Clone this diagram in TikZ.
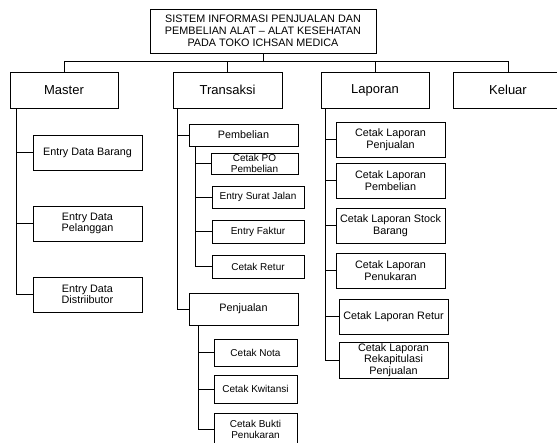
\documentclass[tikz,border=0pt]{standalone}
\usepackage{fontspec}
\setmainfont{Liberation Sans}
\usetikzlibrary{calc}

\tikzset{
  box/.style={draw=black, line width=0.75pt, fill=white, align=center, inner sep=1pt},
  titlebox/.style={box, font=\fontsize{10.8}{12}\selectfont},
  menubox/.style={box, font=\fontsize{13}{15}\selectfont},
  itembox/.style={box, font=\fontsize{10.8}{11.5}\selectfont},
  smallbox/.style={box, font=\fontsize{10}{11.3}\selectfont},
  link/.style={draw=black, line width=0.75pt},
}

\begin{document}
\begin{tikzpicture}[x=1pt, y=-1pt]
\useasboundingbox (0,0) rectangle (557,443);
\begin{scope}
\clip (0,0) rectangle (557,443);

% root
\node[titlebox, minimum width=226pt, minimum height=44pt] (root) at (263,31)
  {SISTEM INFORMASI PENJUALAN DAN\\PEMBELIAN ALAT -- ALAT KESEHATAN\\PADA TOKO ICHSAN MEDICA};

% main menu
\node[menubox, minimum width=108pt, minimum height=36pt] (master)    at (64,90)    {Master};
\node[menubox, minimum width=109pt, minimum height=36pt] (transaksi) at (227.5,90) {Transaksi};
\node[menubox, minimum width=108pt, minimum height=36pt] (laporan)   at (375,90)   {Laporan};
\node[menubox, minimum width=110pt, minimum height=36pt] (keluar)    at (508,90)   {Keluar};

% Master items
\node[itembox, minimum width=109pt, minimum height=35pt] (mb) at (87.5,152.5) {Entry Data Barang};
\node[itembox, minimum width=109pt, minimum height=35pt] (mp) at (87.5,223.5) {Entry Data\\Pelanggan};
\node[itembox, minimum width=109pt, minimum height=35pt] (md) at (87.5,294.5) {Entry Data\\Distriibutor};

% Transaksi items
\node[itembox, minimum width=109pt, minimum height=22pt] (beli) at (243.5,135) {Pembelian};
\node[smallbox, minimum width=87pt, minimum height=21pt] (po)  at (254.5,163.5) {Cetak PO\\Pembelian};
\node[smallbox, minimum width=92pt, minimum height=22pt] (sj)  at (258,197)     {Entry Surat Jalan};
\node[smallbox, minimum width=92pt, minimum height=23pt] (fk)  at (258,231.5)   {Entry Faktur};
\node[smallbox, minimum width=92pt, minimum height=23pt] (rt)  at (258,266.5)   {Cetak Retur};

\node[itembox, minimum width=109pt, minimum height=32pt] (jual) at (243.5,309) {Penjualan};
\node[smallbox, minimum width=83pt, minimum height=27pt] (nota) at (255.5,352.5) {Cetak Nota};
\node[smallbox, minimum width=83pt, minimum height=28pt] (kw)   at (255.5,389)   {Cetak Kwitansi};
\node[smallbox, minimum width=83pt, minimum height=33pt] (bk)   at (255.5,429.5) {Cetak Bukti\\Penukaran};

% Laporan items
\node[itembox, minimum width=109pt, minimum height=35pt] (lj) at (390.5,139.5) {Cetak Laporan\\Penjualan};
\node[itembox, minimum width=109pt, minimum height=35pt] (lb) at (390.5,180.5) {Cetak Laporan\\Pembelian};
\node[itembox, minimum width=109pt, minimum height=35pt] (ls) at (390.5,225.5) {Cetak Laporan Stock\\Barang};
\node[itembox, minimum width=109pt, minimum height=35pt] (lt) at (390.5,270.5) {Cetak Laporan\\Penukaran};
\node[itembox, minimum width=109pt, minimum height=35pt] (lr) at (393.5,316.5) {Cetak Laporan Retur};
\node[itembox, minimum width=109pt, minimum height=36pt] (lk) at (393.5,360)   {Cetak Laporan\\Rekapitulasi\\Penjualan};

% root to main menu
\draw[link] (root.south) -- ++(0,9);
\draw[link] (master.north) -- ++(0,-10) -| (keluar.north);
\draw[link] (transaksi.north) -- ++(0,-10);
\draw[link] (laporan.north) -- ++(0,-10);

% menu trees
\foreach \c in {mb,mp,md}
  \draw[link] ($(master.south west)+(7,0)$) |- (\c.west);
\foreach \c in {beli,jual}
  \draw[link] ($(transaksi.south west)+(5,0)$) |- (\c.west);
\foreach \c in {po,sj,fk,rt}
  \draw[link] ($(beli.south west)+(7,0)$) |- (\c.west);
\foreach \c in {nota,kw,bk}
  \draw[link] ($(jual.south west)+(10,0)$) |- (\c.west);
\foreach \c in {lj,lb,ls,lt,lr,lk}
  \draw[link] ($(laporan.south west)+(5,0)$) |- (\c.west);
\end{scope}
\end{tikzpicture}
\end{document}
